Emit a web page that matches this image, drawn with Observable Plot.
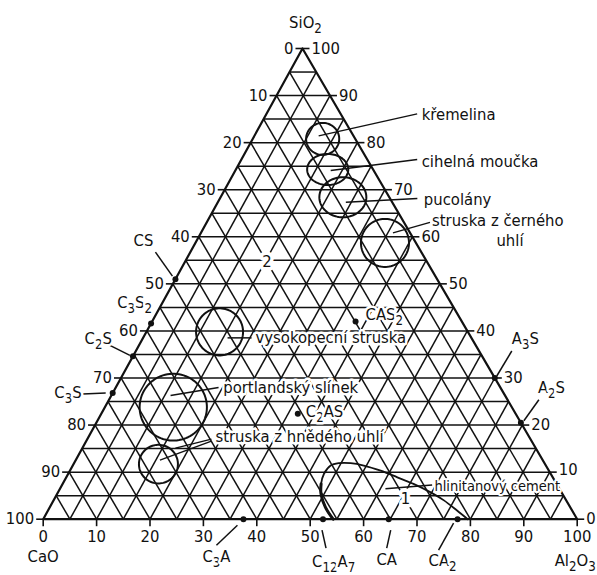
<!DOCTYPE html>
<html><head><meta charset="utf-8">
<script src="https://cdn.jsdelivr.net/npm/d3@7"></script>
<script src="https://cdn.jsdelivr.net/npm/@observablehq/plot@0.6"></script>
<style>
html,body{margin:0;padding:0;background:#fff;}
#chart svg text{font-family:'DejaVu Sans Condensed','DejaVu Sans',sans-serif;font-stretch:condensed;}
</style></head><body><div id="chart"></div>
<script>
// ---------- DATA (mass %) ----------
const ticks = [0,10,20,30,40,50,60,70,80,90,100];

const compoundNames = ["CS","C_3S_2","C_2S","C_3S","C_3A","C_12A_7","CA","CA_2","A_3S","A_2S","CAS_2","C_2AS"];
const compoundCaO   = [49.0, 58.4, 65.4, 73.2, 62.5, 47.6, 35.3, 22.4,  0.0,  0.0, 19.9, 40.8];
const compoundSiO2  = [51.0, 41.6, 34.6, 26.8,  0.0,  0.0,  0.0,  0.0, 30.0, 20.5, 42.0, 22.4];
const compoundAl2O3 = [ 0.0,  0.0,  0.0,  0.0, 37.5, 52.4, 64.7, 77.6, 70.0, 79.5, 38.1, 36.8];

const materialNames = ["křemelina","cihelná moučka","pucolány","struska z černého uhlí","vysokopecní struska","portlandský slínek","struska z hnědého uhlí"];
const materialCaO   = [ 6.1,  8.5,  8.7,  5.8, 46.5, 63.4, 72.4];
const materialSiO2  = [80.8, 74.3, 68.4, 58.7, 39.8, 23.8, 11.7];
const materialAl2O3 = [13.1, 17.2, 22.9, 35.5, 13.7, 12.8, 15.9];
const materialSpreadAl2O3 = [3.1, 3.85, 4.4, 4.5, 4.4, 6.3, 3.65];
const materialSpreadSiO2  = [3.4, 3.3, 4.25, 5.1, 5.0, 7.1, 4.1];

const cementSiO2  = [0.0, 2.55, 5.4, 7.5, 9.65, 11.4, 11.9, 11.9, 11.4, 10.3, 8.9, 7.5, 5.7, 4.0, 1.85, 0.0];
const cementAl2O3 = [54.3, 51.6, 49.4, 48.4, 47.9, 48.3, 49.6, 51.8, 54.5, 58.2, 62.0, 65.7, 69.8, 73.1, 76.6, 79.5];
const cementLabel = "hlinitanový cement";

const regionNames = ["1","2"];
const regionSiO2  = [4.4, 54.6];
const regionAl2O3 = [65.7, 15.4];

const axisTitles = ["SiO_2","CaO","Al_2O_3"];

// ---------- GEOMETRY / LAYOUT ----------
const X0 = 42.7, X1 = 576.7, Y0 = 518.7, Y1 = 48, APEX_X = 302;
const K = (APEX_X - X0) / (X1 - X0);      // horizontal shift of apex
const pxU = (X1 - X0) / 100, pxV = (Y0 - Y1) / 100;
const uv = (al, si) => [al + K * si, si];
const off = ([u, v], dx, dy) => [u + dx / pxU, v - dy / pxV];

const compoundLayout = {
  "CS":     {anchor:"middle", t:[-32,-38], l:[-3,-3,-20,-27]},
  "C_3S_2": {anchor:"end",    t:[1,-21]},
  "C_2S":   {anchor:"end",    t:[-21,-18], l:[-23,-11,-3,-1]},
  "C_3S":   {anchor:"end",    t:[-31,0],  l:[-30,1,-7,0]},
  "C_3A":   {anchor:"middle", t:[-27,38], l:[-27,26,-6,6]},
  "C_12A_7":{anchor:"start",  t:[-11,43], l:[-1,11,3,29]},
  "CA":     {anchor:"middle", t:[-2,41],  l:[2,11,-2,29]},
  "CA_2":   {anchor:"start",  t:[-29,42], l:[-19,31,-4,4]},
  "A_3S":   {anchor:"start",  t:[17,-39], l:[17,-27,2,-2]},
  "A_2S":   {anchor:"start",  t:[17,-35], l:[18,-23,3,-2]},
  "CAS_2":  {anchor:"start",  t:[10,-7]},
  "C_2AS":  {anchor:"start",  t:[8,-2]}
};
const materialLayout = [
  {t:[99,-24],  l:[[-4,-3,94.5,-25]]},
  {t:[94,-8],   l:[[3,1,89.5,-10]]},
  {t:[81,2],    l:[[3,5,74.5,1.3]]},
  {t:[47,-22],  l:[[8,-10,45,-20.5]], split:true, t2:[125,-2.5]},
  {t:[36,6],    l:[[8,6,32,6]]},
  {t:[50,-19],  l:[[-2.7,-11.7,45.3,-19.7]]},
  {t:[57,-27],  l:[[1.5,-4,53,-23],[17,-16,53,-25]]}
];

// ---------- BUILD ----------
const gridLines = [];
for (const s of d3.range(5, 100, 5)) {
  gridLines.push({x1: K*s, y1: s, x2: (100 - s) + K*s, y2: s});
  gridLines.push({x1: s, y1: 0, x2: s + K*(100 - s), y2: 100 - s});
  gridLines.push({x1: 100 - s, y1: 0, x2: K*(100 - s), y2: 100 - s});
}
const border = [uv(0,0), uv(100,0), uv(0,100), uv(0,0)];

const leftTicks = ticks.map(t => { const p = uv(0, t); const q = off(p, -7, 0); return {x1:q[0], y1:q[1], x2:p[0], y2:p[1], u:p[0], v:p[1], label:String(100 - t)}; });
const rightTicks = ticks.map(t => { const p = uv(100 - t, t); const q = off(p, 7, 0); return {x1:p[0], y1:p[1], x2:q[0], y2:q[1], u:p[0], v:p[1], label:String(t)}; });
const bottomTicks = ticks.map(t => { const p = uv(t, 0); const q = off(p, 0, 7); return {x1:p[0], y1:p[1], x2:q[0], y2:q[1], u:p[0], v:p[1], label:String(t)}; });

const compounds = compoundNames.map((n, i) => ({name:n, p: uv(compoundAl2O3[i], compoundSiO2[i]), lay: compoundLayout[n]}));
const compoundLeaders = compounds.filter(c => c.lay.l).map(c => {
  const a = off(c.p, c.lay.l[0], c.lay.l[1]), b = off(c.p, c.lay.l[2], c.lay.l[3]);
  return {x1:a[0], y1:a[1], x2:b[0], y2:b[1]};
});
const compoundText = anchor => compounds.filter(c => c.lay.anchor === anchor).map(c => {
  const q = off(c.p, c.lay.t[0], c.lay.t[1]); return {u:q[0], v:q[1], name:c.name};
});

const materials = materialNames.map((n, i) => ({name:n, c: uv(materialAl2O3[i], materialSiO2[i]), lay: materialLayout[i], rx: materialSpreadAl2O3[i], ry: materialSpreadSiO2[i]}));
const ellipsePts = materials.flatMap(m => d3.range(0, 361, 4).map(a => ({
  name: m.name, u: m.c[0] + m.rx * Math.cos(a * Math.PI / 180), v: m.c[1] + m.ry * Math.sin(a * Math.PI / 180)
})));
const materialLeaders = materials.flatMap(m => m.lay.l.map(l => {
  const a = off(m.c, l[0], l[1]), b = off(m.c, l[2], l[3]);
  return {x1:a[0], y1:a[1], x2:b[0], y2:b[1]};
}));
const materialText = materials.map(m => {
  const q = off(m.c, m.lay.t[0], m.lay.t[1]);
  return {u:q[0], v:q[1], name: m.lay.split ? m.name.replace(/ uhlí$/, "") : m.name};
});
const materialText2 = materials.filter(m => m.lay.split).map(m => {
  const q = off(m.c, m.lay.t2[0], m.lay.t2[1]); return {u:q[0], v:q[1], name:"uhlí"};
});

const cement = cementSiO2.map((s, i) => { const p = uv(cementAl2O3[i], s); return {u:p[0], v:p[1]}; });
const regions = regionNames.map((n, i) => { const p = uv(regionAl2O3[i], regionSiO2[i]); return {u:p[0], v:p[1], name:n}; });
const r1 = [regions[0].u, regions[0].v];
const cementLead = (() => { const a = off(r1, -20, -9.7), b = off(r1, 26.7, -13.5); return [{x1:a[0], y1:a[1], x2:b[0], y2:b[1]}]; })();
const cementText = (() => { const q = off(r1, 29, -12.5); return [{u:q[0], v:q[1], name:cementLabel}]; })();

const titles = [
  (() => { const q = off(uv(0,100), 3, -26); return {u:q[0], v:q[1], name:axisTitles[0]}; })(),
  (() => { const q = off(uv(0,0), 0, 38); return {u:q[0], v:q[1], name:axisTitles[1]}; })(),
  (() => { const q = off(uv(100,0), -2, 42); return {u:q[0], v:q[1], name:axisTitles[2]}; })()
];

const INK = "#111";
const halo = {stroke:"white", strokeWidth:5, paintOrder:"stroke", strokeLinejoin:"round", fill: INK};

const plot = Plot.plot({
  width: 597, height: 575,
  marginTop: 0, marginRight: 0, marginBottom: 0, marginLeft: 0,
  x: {domain:[0,100], range:[X0, X1], axis:null},
  y: {domain:[0,100], range:[Y0, Y1], axis:null},
  style: {fontSize:"16.5px", background:"white", color: INK, overflow:"visible"},
  marks: [
    Plot.link(gridLines, {x1:"x1", y1:"y1", x2:"x2", y2:"y2", stroke: INK, strokeWidth:1.5}),
    Plot.line(border, {x: d => d[0], y: d => d[1], stroke: INK, strokeWidth:2.2}),
    Plot.link(leftTicks,  {x1:"x1", y1:"y1", x2:"x2", y2:"y2", stroke: INK, strokeWidth:1.6}),
    Plot.link(rightTicks, {x1:"x1", y1:"y1", x2:"x2", y2:"y2", stroke: INK, strokeWidth:1.6}),
    Plot.link(bottomTicks,{x1:"x1", y1:"y1", x2:"x2", y2:"y2", stroke: INK, strokeWidth:1.6}),
    Plot.line(ellipsePts, {x:"u", y:"v", z:"name", stroke: INK, strokeWidth:2, curve:"linear"}),
    Plot.line(cement, {x:"u", y:"v", stroke: INK, strokeWidth:1.8, curve:"catmull-rom"}),
    Plot.line(cement.slice(0, 4), {x:"u", y:"v", stroke: INK, strokeWidth:3, curve:"catmull-rom"}),
    Plot.link(compoundLeaders, {x1:"x1", y1:"y1", x2:"x2", y2:"y2", stroke: INK, strokeWidth:1.5}),
    Plot.link(materialLeaders, {x1:"x1", y1:"y1", x2:"x2", y2:"y2", stroke: INK, strokeWidth:1.5}),
    Plot.link(cementLead, {x1:"x1", y1:"y1", x2:"x2", y2:"y2", stroke: INK, strokeWidth:1.5}),
    Plot.dot(compounds, {x: d => d.p[0], y: d => d.p[1], r:3, fill: INK}),
    Plot.text(leftTicks,  {x:"u", y:"v", text:"label", dx:-9, textAnchor:"end", fill: INK}),
    Plot.text(rightTicks.filter(d => d.label !== "10"), {x:"u", y:"v", text:"label", dx:9, textAnchor:"start", fill: INK}),
    Plot.text(rightTicks.filter(d => d.label === "10"), {x:"u", y:"v", text:"label", dx:9, dy:-2, textAnchor:"start", fill: INK}),
    Plot.text(bottomTicks,{x:"u", y:"v", text:"label", dy:18, textAnchor:"middle", fill: INK}),
    Plot.text(compoundText("middle"), {x:"u", y:"v", text:"name", textAnchor:"middle", ...halo}),
    Plot.text(compoundText("start"),  {x:"u", y:"v", text:"name", textAnchor:"start", ...halo}),
    Plot.text(compoundText("end"),    {x:"u", y:"v", text:"name", textAnchor:"end", ...halo}),
    Plot.text(materialText,  {x:"u", y:"v", text:"name", textAnchor:"start", ...halo}),
    Plot.text(materialText2, {x:"u", y:"v", text:"name", textAnchor:"middle", ...halo}),
    Plot.text(cementText, {x:"u", y:"v", text:"name", textAnchor:"start", fontSize:14.5, ...halo, strokeWidth:4}),
    Plot.text(regions, {x:"u", y:"v", text:"name", textAnchor:"middle", ...halo, strokeWidth:7}),
    Plot.text(titles, {x:"u", y:"v", text:"name", textAnchor:"middle", fill: INK})
  ]
});

// subscripts: "_n" -> lowered, smaller digits
const NS = "http://www.w3.org/2000/svg";
plot.querySelectorAll("text").forEach(t => {
  if (t.querySelector("tspan")) return;
  const s = t.textContent;
  if (!s.includes("_")) return;
  t.textContent = "";
  const parts = s.split(/(_\d+)/).filter(Boolean);
  let lowered = false;
  for (const p of parts) {
    const ts = document.createElementNS(NS, "tspan");
    if (p.startsWith("_")) {
      ts.textContent = p.slice(1);
      ts.setAttribute("font-size", "0.8em");
      ts.setAttribute("dy", "5");
      lowered = true;
    } else {
      ts.textContent = p;
      if (lowered) ts.setAttribute("dy", "-5");
      lowered = false;
    }
    t.appendChild(ts);
  }
});

document.getElementById("chart").appendChild(plot);
</script></body></html>
